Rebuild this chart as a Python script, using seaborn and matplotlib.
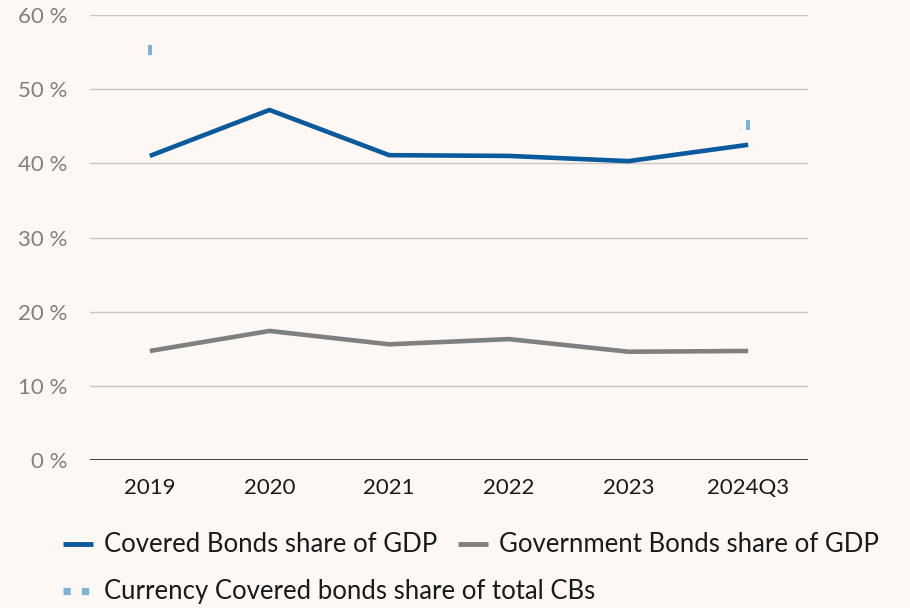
import numpy as np
import pandas as pd
import matplotlib
matplotlib.use("Agg")
import matplotlib.pyplot as plt
from matplotlib.lines import Line2D
from matplotlib.path import Path
import seaborn as sns

years = ["2019", "2020", "2021", "2022", "2023", "2024Q3"]
covered = [41.0, 47.2, 41.1, 41.0, 40.3, 42.5]
government = [14.7, 17.4, 15.6, 16.3, 14.6, 14.7]
currency = [55.3, np.nan, np.nan, np.nan, np.nan, 45.2]
yticks = [0, 10, 20, 30, 40, 50, 60]

names = ["Covered Bonds share of GDP", "Government Bonds share of GDP",
         "Currency Covered bonds share of total CBs"]
colors = {names[0]: "#0a5a9e", names[1]: "#808080", names[2]: "#7ab4d6"}

df = pd.DataFrame({"year": years * 2,
                   "value": covered + government,
                   "series": [names[0]] * 6 + [names[1]] * 6})
df_cur = pd.DataFrame({"year": years, "value": currency}).dropna()

bg = "#fdf8f4"
sns.set_theme(style="white")
plt.rcParams["font.family"] = ["Lato", "DejaVu Sans"]

fig = plt.figure(figsize=(9.1, 6.08), dpi=100, facecolor=bg)
ax = fig.add_axes([90 / 910, 1 - 460 / 608, 718 / 910, 445 / 608])
ax.set_facecolor(bg)

sns.lineplot(data=df, x="year", y="value", hue="series", palette=colors,
             linewidth=3.3, ax=ax, legend=False, sort=False,
             solid_capstyle="butt")
rect = Path([(-0.25, -0.5), (0.25, -0.5), (0.25, 0.5), (-0.25, 0.5), (-0.25, -0.5)])
sns.scatterplot(data=df_cur, x="year", y="value", color=colors[names[2]],
                marker=rect, s=45, linewidth=0, ax=ax, legend=False)

ax.set_xlim(-0.5, 5.5)
ax.set_ylim(0, 60)
ax.set_yticks(yticks)
ax.set_yticklabels([f"{v} %" for v in yticks])
for v in yticks[1:]:
    ax.axhline(v, color="#c9c6c3", linewidth=1, zorder=0)
ax.axhline(0, color="#222222", linewidth=1.2, zorder=1)
for s in ax.spines.values():
    s.set_visible(False)
ax.tick_params(axis="y", colors="#808080", labelsize=16, length=0, pad=16)
ax.tick_params(axis="x", colors="#1a1a1a", labelsize=16, length=0, pad=13)
ax.set_xlabel("")
ax.set_ylabel("")

fs = 18.5
h1 = [Line2D([], [], color=colors[names[0]], lw=3.5, solid_capstyle="butt"),
      Line2D([], [], color=colors[names[1]], lw=3.5, solid_capstyle="butt")]
leg1 = fig.legend(h1, names[:2], loc="center left", bbox_to_anchor=(40 / 910, 1 - 545 / 608),
                  ncol=2, frameon=False, fontsize=fs, handlelength=1.17,
                  handletextpad=0.42, columnspacing=0.8)
h2 = [Line2D([], [], color=colors[names[2]], lw=5.2, dashes=(1.0, 1.55))]
leg2 = fig.legend(h2, names[2:], loc="center left", bbox_to_anchor=(40 / 910, 1 - 592 / 608),
                  frameon=False, fontsize=fs, handlelength=1.17, handletextpad=0.42)
for t in leg1.get_texts() + leg2.get_texts():
    t.set_color("#1a1a1a")

fig.savefig("out.png", dpi=100, facecolor=bg)
